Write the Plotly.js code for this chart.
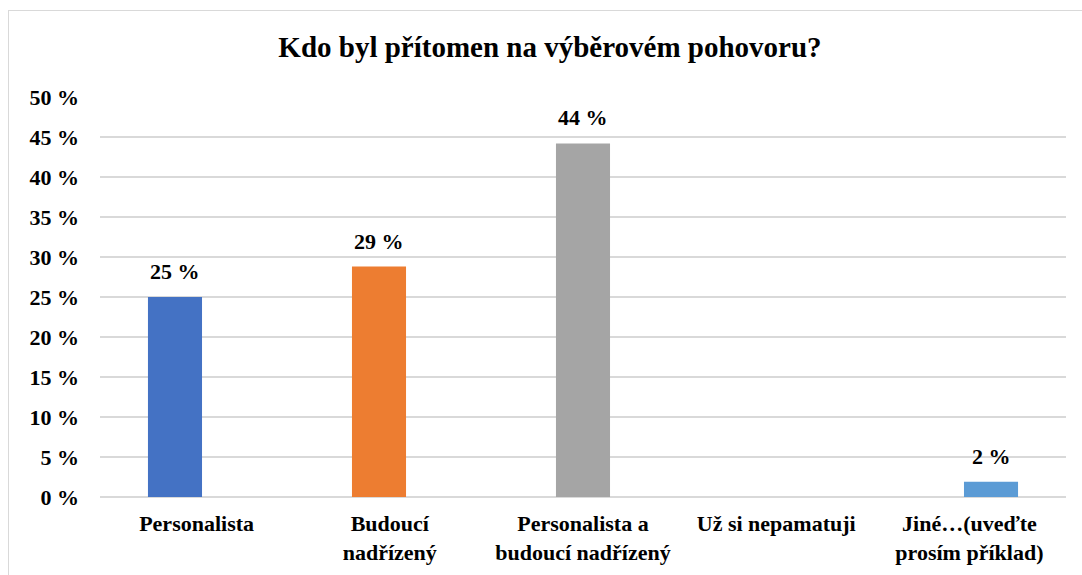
<!DOCTYPE html>
<html>
<head>
<meta charset="utf-8">
<script src="https://cdn.plot.ly/plotly-3.0.1.min.js"></script>
<style>
  html, body { margin: 0; padding: 0; background: #fff; overflow: hidden; }
  #wrap { position: relative; width: 1082px; height: 575px; }
  #chart { position: absolute; left: 0; top: 0; width: 1082px; height: 575px; }
  #frame { position: absolute; left: 8px; top: 10px; width: 1200px; height: 700px;
           border: 1.5px solid #d9d9d9; pointer-events: none; box-sizing: border-box; }
</style>
</head>
<body>
<div id="wrap">
  <div id="chart"></div>
  <div id="frame"></div>
</div>
<script>
const categories = ["Personalista", "Budoucí<br>nadřízený", "Personalista a<br>budoucí nadřízený", "Už si nepamatuji", "Jiné…(uveďte<br>prosím příklad)"];
const values = [25.0, 28.8, 44.2, 0, 1.9];
const labels = ["25 %", "29 %", "44 %", "", "2 %"];
const colors = ["#4472C4", "#ED7D31", "#A5A5A5", "#FFC000", "#5B9BD5"];

const font = "Liberation Serif";

const traces = [
  { type: "bar", x: categories, y: values, xaxis: "x2", yaxis: "y",
    marker: { color: colors }, width: 0.265, hoverinfo: "skip" },
  { type: "scatter", mode: "markers", x: categories, y: values, xaxis: "x", yaxis: "y",
    marker: { opacity: 0 }, hoverinfo: "skip", showlegend: false }
];

const annotations = categories.map((c, i) => ({
  x: c, y: values[i], xref: "x2", yref: "y", text: "<b>" + labels[i] + "</b>",
  showarrow: false, yanchor: "bottom", yshift: 11,
  font: { family: font, size: 22, color: "#000" }
}));

const layout = {
  width: 1082, height: 575,
  margin: { l: 100, r: 16, t: 97, b: 78 },
  paper_bgcolor: "#fff", plot_bgcolor: "#fff",
  showlegend: false,
  font: { family: font, color: "#000" },
  title: { text: "<b>Kdo byl přítomen na výběrovém pohovoru?</b>",
           font: { family: font, size: 29, color: "#000" },
           x: 550/1082, xref: "container", xanchor: "center",
           y: 1 - 47/575, yref: "container", yanchor: "middle" },
  xaxis: { type: "category", categoryarray: categories, range: [-0.5, 4.5],
           showgrid: false, zeroline: false, showline: false, ticks: "",
           ticklabelstandoff: 11,
           tickfont: { family: font, size: 22, color: "#000", weight: "bold" } },
  xaxis2: { type: "category", categoryarray: categories, overlaying: "x",
            range: [-0.3676, 4.3676], visible: false },
  yaxis: { range: [0, 50], dtick: 5, tick0: 0, ticksuffix: " %",
           showgrid: true, gridcolor: "#d9d9d9", gridwidth: 1.5,
           zeroline: true, zerolinecolor: "#d9d9d9", zerolinewidth: 1.5,
           showline: false, ticks: "", ticklabelstandoff: 20,
           tickfont: { family: font, size: 22, color: "#000", weight: "bold" } },
  annotations: annotations
};

Plotly.newPlot("chart", traces, layout, { staticPlot: true, displayModeBar: false });
</script>
</body>
</html>
